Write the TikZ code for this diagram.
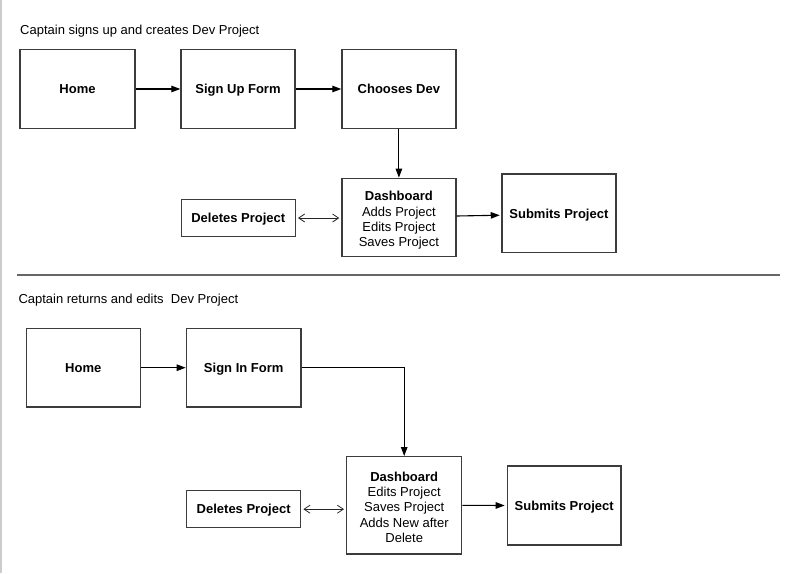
\documentclass[tikz,border=0pt]{standalone}
\usepackage{fontspec}
\setmainfont{Liberation Sans}
\usetikzlibrary{arrows.meta}
\definecolor{boxline}{HTML}{3C3C3C}
\tikzset{
  x=1pt, y=-1pt,
  every node/.style={font=\fontsize{13}{15.3}\selectfont, text=black},
  box/.style={draw=boxline, line width=1.3pt, rectangle, inner sep=0pt, align=center, text height=9.4pt, text depth=0pt, font=\fontsize{13}{15.3}\selectfont\bfseries},
  frame/.style={draw=boxline, line width=1.3pt, rectangle, inner sep=0pt},
  inner/.style={align=center, inner sep=0pt, font=\fontsize{13}{15.3}\selectfont},
  flow/.style={draw=black, line width=1.1pt, -{Triangle[length=9pt,width=6.5pt]}},
  both/.style={draw=black!85, line width=0.8pt, {Straight Barb[length=6pt,width=8pt]}-{Straight Barb[length=6pt,width=8pt]}, shorten <=2pt, shorten >=2pt},
  title/.style={anchor=base west, inner sep=0pt}
}
\begin{document}
\begin{tikzpicture}
\useasboundingbox (0,0) rectangle (800,573);
\fill[white] (0,0) rectangle (800,573);
\draw[black!20, line width=1.2pt] (1,0) -- (1,573);

% top section
\node[title] (t1) at (20,34) {Captain signs up and creates Dev Project};
\node[box, minimum width=115pt, minimum height=79pt] (home1) at (77.5,89) {Home};
\node[box, minimum width=114pt, minimum height=79pt] (signup) at (238,89) {Sign Up Form};
\node[box, minimum width=114pt, minimum height=79pt] (chooses) at (398.9,89) {Chooses Dev};
\node[frame, minimum width=114pt, minimum height=78.4pt] (dash1) at (398.9,217.5) {};
\node[inner] (dash1t) at ([yshift=-2.8pt]dash1.center)
  {\textbf{Dashboard}\\Adds Project\\Edits Project\\Saves Project};
\node[box, minimum width=114pt, minimum height=37.4pt] (del1) at (238.3,218) {Deletes Project};
\node[box, minimum width=114pt, minimum height=78.7pt] (sub1) at (558.9,213.4) {Submits Project};

\draw[flow] (home1) -- (signup);
\draw[flow] (signup) -- (chooses);
\draw[flow] (chooses) -- (dash1);
\draw[both] (del1.east) -- (del1.east -| dash1.west);
\draw[flow, shorten >=1.5pt] ([yshift=1.5pt]dash1.east) -- ([yshift=-1.8pt]sub1.west);

% divider
\coordinate (dl) at (17,275);
\coordinate (dr) at (780,275);
\draw[black!60, line width=1.2pt] (dl) -- (dr);

% bottom section
\node[title] (t2) at (18.3,303.3) {Captain returns and edits~~Dev Project};
\node[box, minimum width=114pt, minimum height=78.7pt] (home2) at (83.3,367.7) {Home};
\node[box, minimum width=114.7pt, minimum height=78.7pt] (signin) at (243.7,367.7) {Sign In Form};
\node[frame, minimum width=115pt, minimum height=97.3pt] (dash2) at (404.2,505.3) {};
\node[inner] (dash2t) at ([yshift=-2pt]dash2.center)
  {\textbf{Dashboard}\\Edits Project\\Saves Project\\Adds New after\\Delete};
\node[box, minimum width=114pt, minimum height=37pt] (del2) at (243.7,509.2) {Deletes Project};
\node[box, minimum width=113.7pt, minimum height=79pt] (sub2) at (564.2,505.5) {Submits Project};

\draw[flow] (home2) -- (signin);
\draw[flow] (signin.east) -| (dash2.north);
\draw[both] (del2.east) -- (del2.east -| dash2.west);
\draw[flow, shorten >=2pt] (dash2.east) -- (sub2.west);
\end{tikzpicture}
\end{document}
